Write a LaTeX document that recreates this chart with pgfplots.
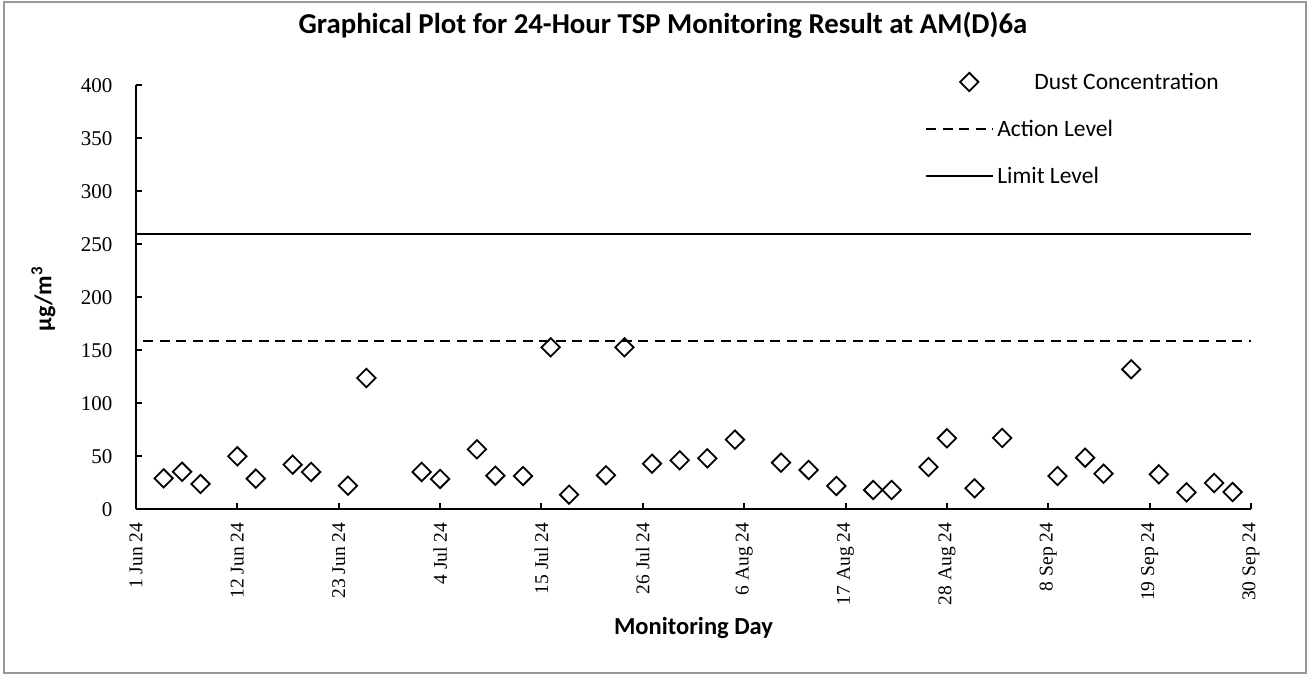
\documentclass[border=0pt]{standalone}
\usepackage{fontspec}
\setmainfont{Liberation Serif}
\newfontfamily\calibri{Carlito}
\usepackage{pgfplots}
\pgfplotsset{compat=1.18}
\pgfplotsset{
  longline legend/.style={legend image code/.code={\draw[##1] (0pt,0pt) -- (67pt,0pt);}},
  mark legend/.style={legend image code/.code={\draw[##1] plot coordinates {(43pt,0pt)};}},
}
\begin{document}
\begin{tikzpicture}
\useasboundingbox (-136pt,-167.7pt) rectangle (1176pt,509.3pt);
\draw[gray!80, line width=1.5pt] (-132pt,-163.7pt) rectangle (1170pt,507.3pt);
\begin{axis}[
  scale only axis,
  width=1115pt, height=424pt,
  xmin=0, xmax=121, ymin=0, ymax=400,
  axis x line*=bottom, axis y line*=left,
  axis line style={line width=2pt, -},
  xtick={0,11,...,121},
  xticklabels={1 Jun 24,12 Jun 24,23 Jun 24,4 Jul 24,15 Jul 24,26 Jul 24,6 Aug 24,17 Aug 24,28 Aug 24,8 Sep 24,19 Sep 24,30 Sep 24},
  ytick={0,50,...,400},
  tick align=inside,
  major tick length=6pt,
  tick style={line width=2pt, black},
  /pgf/number format/assume math mode=true,
  yticklabel style={font=\fontsize{21pt}{25pt}\selectfont},
  xticklabel style={font=\fontsize{19.5pt}{23pt}\selectfont, rotate=90, anchor=east},
  xticklabel shift=10pt,
  yticklabel shift=20pt,
  title={Graphical Plot for 24-Hour TSP Monitoring Result at AM(D)6a},
  title style={font=\calibri\bfseries\fontsize{28.8pt}{33pt}\selectfont, at={(axis description cs:0.4726,1.128)}, anchor=center},
  xlabel={Monitoring Day},
  xlabel style={font=\calibri\bfseries\fontsize{24.5pt}{28pt}\selectfont, at={(axis description cs:0.5,-0.28)}, anchor=center},
  ylabel={µg/m\textsuperscript{3}},
  ylabel style={font=\calibri\bfseries\fontsize{24pt}{28pt}\selectfont, at={(axis description cs:-0.083,0.496)}, anchor=center},
  legend style={draw=none, fill=none, at={(axis description cs:0.7076,1.030)}, anchor=north west,
    font=\calibri\fontsize{23.5pt}{28pt}\selectfont, row sep=29pt, inner sep=0pt,
    nodes={inner xsep=3pt, inner ysep=0pt, anchor=west}},
  legend cell align=left,
  clip=false,
]
\addplot[only marks, mark=square, mark size=6.5pt, mark options={rotate=45, line width=1.8pt, black}, black, mark legend]
coordinates {
(3,29.2) (5,35.4) (7,23.9) (11,50) (13,28.9) (17,42.1) (19,35.2) (23,22.3) (25,123.9)
(31,35.2) (33,28.6) (37,56.6) (39,31.7) (42,31.4) (45,152.8) (47,13.8) (51,32.1) (53,152.8)
(56,43) (59,46.2) (62,48.1) (65,65.7) (70,44) (73,37.1) (76,22) (80,18.2) (82,18.2)
(86,39.9) (88,67) (91,19.8) (94,67.3) (100,31.4) (103,48.7) (105,33.6) (108,132.1)
(111,33) (114,16) (117,24.8) (119,16.3)
};
\addlegendentry{\hspace*{37pt}Dust Concentration}
\addplot[black, line width=2.2pt, dash pattern=on 10pt off 6.5pt, longline legend]
coordinates {(0.8,159) (121,159)};
\addlegendentry{Action Level}
\addplot[black, line width=2.2pt, longline legend]
coordinates {(0,260) (121,260)};
\addlegendentry{Limit Level}
\end{axis}
\end{tikzpicture}
\end{document}
